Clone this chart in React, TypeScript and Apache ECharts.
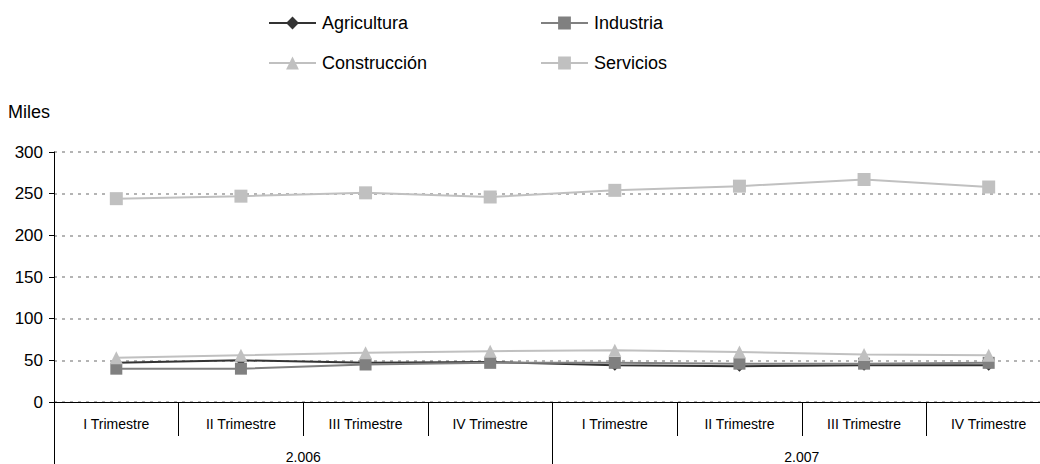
import React, { useEffect, useRef } from "react";
import * as echarts from "echarts";

const quarters = ["I Trimestre", "II Trimestre", "III Trimestre", "IV Trimestre", "I Trimestre", "II Trimestre", "III Trimestre", "IV Trimestre"];
const years = ["2.006", "2.007"];
const yTicks = [0, 50, 100, 150, 200, 250, 300];

const agricultura = [47, 50, 47, 48, 44, 43, 44, 44];
const industria = [40, 40, 45, 47, 47, 46, 46, 47];
const construccion = [53, 56, 59, 61, 62, 60, 57, 56];
const servicios = [244, 247, 251, 246, 254, 259, 267, 258];

const FONT = "Liberation Sans, Arial, sans-serif";

export default function App() {
  const ref = useRef<HTMLDivElement>(null);
  useEffect(() => {
    if (!ref.current) return;
    const chart = echarts.init(ref.current, undefined, { renderer: "svg" });
    const mk = (name: string, data: number[], color: string, lineColor: string, symbol: string, size: number) => ({
      name,
      type: "line",
      data,
      symbol,
      symbolSize: size,
      lineStyle: { color: lineColor, width: 2 },
      itemStyle: { color },
      xAxisIndex: 0,
    });
    const legendBase = {
      itemWidth: 47,
      itemHeight: 16,
      itemGap: 6,
      padding: 0,
      textStyle: { fontFamily: FONT, fontSize: 18, color: "#000", padding: [0, 0, 0, 1] },
    };
    chart.setOption({
      animation: false,
      textStyle: { fontFamily: FONT },
      title: { text: "Miles", left: 8, top: 103, padding: 0, textStyle: { fontFamily: FONT, fontSize: 18, fontWeight: "normal", color: "#000" } },
      legend: [
        { ...legendBase, left: 268, top: 14, data: ["Agricultura"] },
        { ...legendBase, left: 540, top: 14, data: ["Industria"] },
        { ...legendBase, left: 268, top: 54, data: ["Construcción"] },
        { ...legendBase, left: 540, top: 54, data: ["Servicios"] },
      ],
      grid: { left: 54, top: 152, width: 997, height: 251 },
      xAxis: [
        {
          type: "category",
          data: quarters,
          position: "bottom",
          boundaryGap: true,
          axisLine: { lineStyle: { color: "#000", width: 1 } },
          axisTick: { show: true, length: 34, lineStyle: { color: "#000" }, alignWithLabel: false },
          axisLabel: { fontFamily: FONT, fontSize: 14, color: "#000", margin: 15, interval: 0 },
          splitLine: { show: false },
        },
        {
          type: "category",
          data: years,
          position: "bottom",
          boundaryGap: true,
          axisLine: { show: false },
          axisTick: { show: true, length: 62, lineStyle: { color: "#000" } },
          axisLabel: { fontFamily: FONT, fontSize: 14, color: "#000", margin: 48, interval: 0 },
          splitLine: { show: false },
        },
      ],
      yAxis: {
        type: "value",
        min: yTicks[0],
        max: yTicks[yTicks.length - 1],
        interval: 50,
        axisLine: { show: true, lineStyle: { color: "#000" } },
        axisTick: { show: true, length: 5, lineStyle: { color: "#000" } },
        axisLabel: { fontFamily: FONT, fontSize: 17, color: "#000", margin: 11 },
        splitLine: { show: true, lineStyle: { color: "#b4b4b4", type: [3, 5], width: 2 } },
      },
      series: [
        mk("Agricultura", agricultura, "#333333", "#333333", "diamond", 11),
        mk("Industria", industria, "#808080", "#808080", "rect", 12),
        mk("Construcción", construccion, "#c0c0c0", "#c0c0c0", "triangle", 13),
        mk("Servicios", servicios, "#c0c0c0", "#c0c0c0", "rect", 13),
      ],
    });
    return () => chart.dispose();
  }, []);
  return (
    <div style={{ position: "fixed", left: 0, top: 0, width: 1040, height: 464, overflow: "hidden", background: "#fff" }}>
      <div ref={ref} style={{ width: 1070, height: 464 }} />
    </div>
  );
}
